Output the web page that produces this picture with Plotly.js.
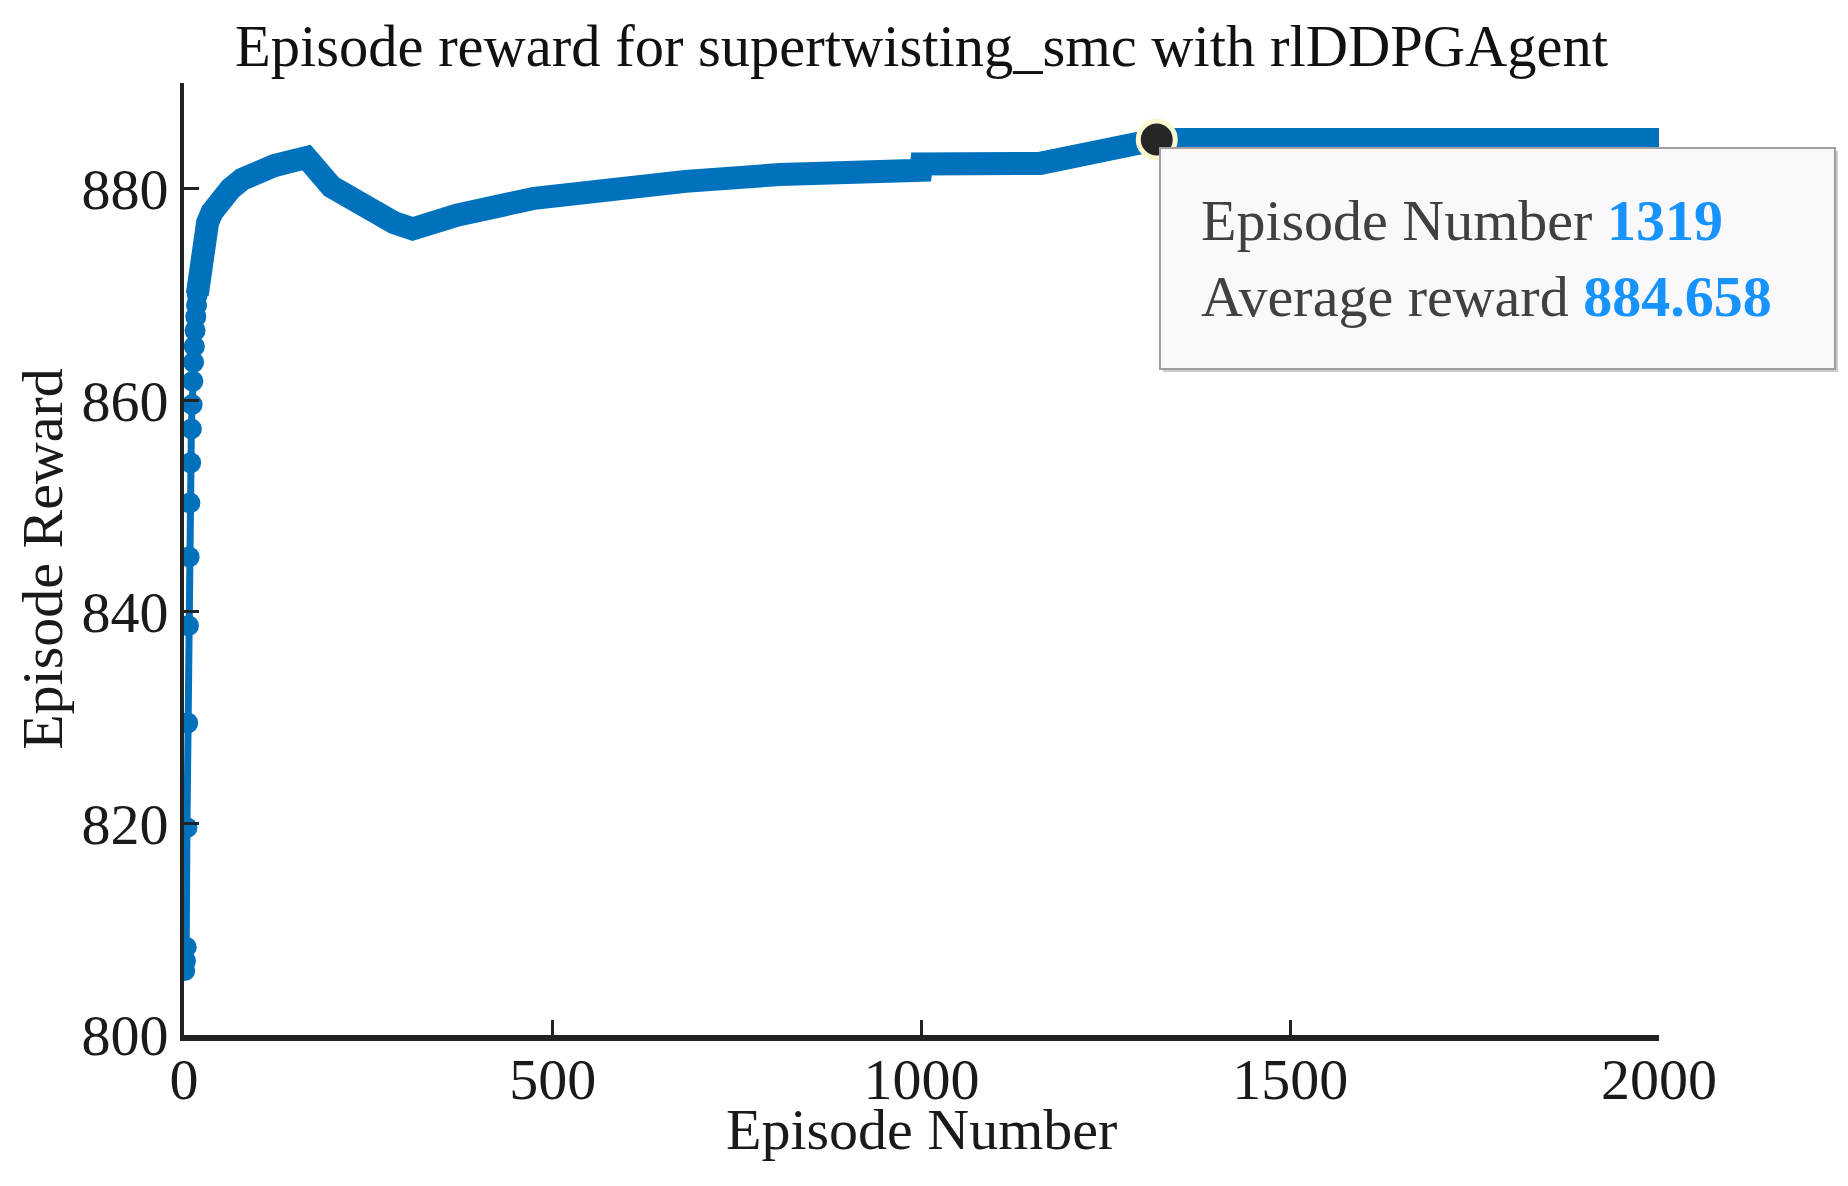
<!DOCTYPE html>
<html>
<head>
<meta charset="utf-8">
<script src="https://cdn.plot.ly/plotly-3.0.1.min.js"></script>
<style>
  html, body { margin: 0; padding: 0; background: #ffffff; }
  #fig { width: 1848px; height: 1186px; }
</style>
</head>
<body>
<div id="fig"></div>
<script>
// values (average reward per episode)
var episode = [1, 2, 3, 4, 5, 6, 7, 8, 9, 10, 11, 12, 13, 14, 15, 16, 17, 18,
               20, 23, 27, 32, 38, 45, 51, 63, 79, 100, 123, 145, 166,
               200, 230, 260, 285, 310, 370, 475, 580, 680, 808, 900, 999,
               1000, 1161, 1319, 2000];
var reward  = [806.1, 807.0, 808.3, 819.6, 829.5, 838.7, 845.2, 850.3, 854.1,
               857.3, 859.6, 861.8, 863.6, 865.1, 866.6, 867.9, 869.0, 870.0,
               871.4, 873.3, 875.3, 876.8, 877.8, 878.6, 879.1, 880.0, 880.9,
               881.7, 882.2, 882.6, 882.95,
               880.2, 878.8, 877.6, 876.8, 876.2, 877.5, 879.1, 880.1, 880.7,
               881.35, 881.55, 881.75, 882.35, 882.4, 884.658, 884.658];

var xTicks = [0, 500, 1000, 1500, 2000];
var yTicks = [800, 820, 840, 860, 880];

var nEarly = 18;           // first episodes drawn as separate markers
var tipIndex = 45;         // the point with the data tip (episode 1319)

var blue = '#0072BD';
var serif = 'Liberation Serif, Times New Roman, serif';

var series = [];

// steep start: thin line with visible markers
series.push({
  x: episode.slice(0, nEarly),
  y: reward.slice(0, nEarly),
  type: 'scatter',
  mode: 'lines+markers',
  line: {color: blue, width: 7},
  marker: {color: blue, size: 21},
  hoverinfo: 'skip'
});

// the rest: markers merge into a thick band
series.push({
  x: episode.slice(nEarly - 1),
  y: reward.slice(nEarly - 1),
  type: 'scatter',
  mode: 'lines',
  line: {color: blue, width: 23, shape: 'linear'},
  hoverinfo: 'skip'
});

// data tip point
series.push({
  x: [episode[tipIndex]],
  y: [reward[tipIndex]],
  type: 'scatter',
  mode: 'markers',
  marker: {color: '#262626', size: 37, line: {color: '#fcf8cf', width: 5}},
  hoverinfo: 'skip'
});

var tipBlue = '#1793ff';
var tipText = 'Episode Number <b><span style="color:' + tipBlue + '">' + episode[tipIndex] +
              '</span></b><br>Average reward <b><span style="color:' + tipBlue + '">' +
              reward[tipIndex].toFixed(3) + '</span></b>';

// plot area in pixels, used to place the boxes and the x title
var L = 184, R = 1659, T = 83, B = 1035;
function px(x) { return (x - L) / (R - L); }
function py(y) { return (B - y) / (B - T); }

var layout = {
  width: 1848,
  height: 1186,
  margin: {l: L, r: 1848 - R, t: T, b: 1186 - B, pad: 0},
  paper_bgcolor: '#ffffff',
  plot_bgcolor: '#ffffff',
  showlegend: false,
  font: {family: serif, color: '#1a1a1a', size: 57},
  title: {
    text: 'Episode reward for supertwisting_smc with rlDDPGAgent',
    font: {family: serif, size: 58.5, color: '#111111'},
    x: 0.5, xref: 'paper', xanchor: 'center',
    y: 1 - 46 / 1186, yref: 'container', yanchor: 'middle'
  },
  xaxis: {
    range: [0, 2000],
    tickvals: xTicks,
    ticks: 'inside', ticklen: 15, tickwidth: 3, tickcolor: '#222222',
    showline: true, linewidth: 6, linecolor: '#222222',
    showgrid: false, zeroline: false,
    tickfont: {family: serif, size: 58, color: '#1a1a1a'},
    ticklabelstandoff: -12
  },
  yaxis: {
    range: [800, 890],
    tickvals: yTicks,
    ticks: 'inside', ticklen: 15, tickwidth: 3, tickcolor: '#222222',
    showline: true, linewidth: 4, linecolor: '#222222',
    showgrid: false, zeroline: false,
    tickfont: {family: serif, size: 58, color: '#1a1a1a'},
    ticklabelstandoff: 0,
    title: {text: 'Episode Reward', font: {family: serif, size: 58, color: '#1a1a1a'}, standoff: 1}
  },
  shapes: [{
    // soft shadow behind the data tip
    type: 'rect', xref: 'paper', yref: 'paper',
    x0: px(1163), x1: px(1838), y0: py(151), y1: py(372),
    fillcolor: '#cccccc', line: {width: 0}, layer: 'above'
  }],
  annotations: [{
    // x axis title, placed like the reference
    xref: 'paper', yref: 'paper',
    x: 0.5, y: py(1129), xanchor: 'center', yanchor: 'middle',
    text: 'Episode Number', showarrow: false,
    font: {family: serif, size: 58, color: '#1a1a1a'}
  }, {
    // data tip
    xref: 'paper', yref: 'paper',
    x: px(1159), y: py(147), xanchor: 'left', yanchor: 'top',
    text: tipText,
    showarrow: false,
    align: 'left',
    width: 593, height: 139,
    borderpad: 40,
    bgcolor: '#f9f9fc',
    bordercolor: '#a0a0a0',
    borderwidth: 2,
    font: {family: serif, size: 58, color: '#404040'}
  }]
};

Plotly.newPlot('fig', series, layout, {staticPlot: true, displayModeBar: false});
</script>
</body>
</html>
